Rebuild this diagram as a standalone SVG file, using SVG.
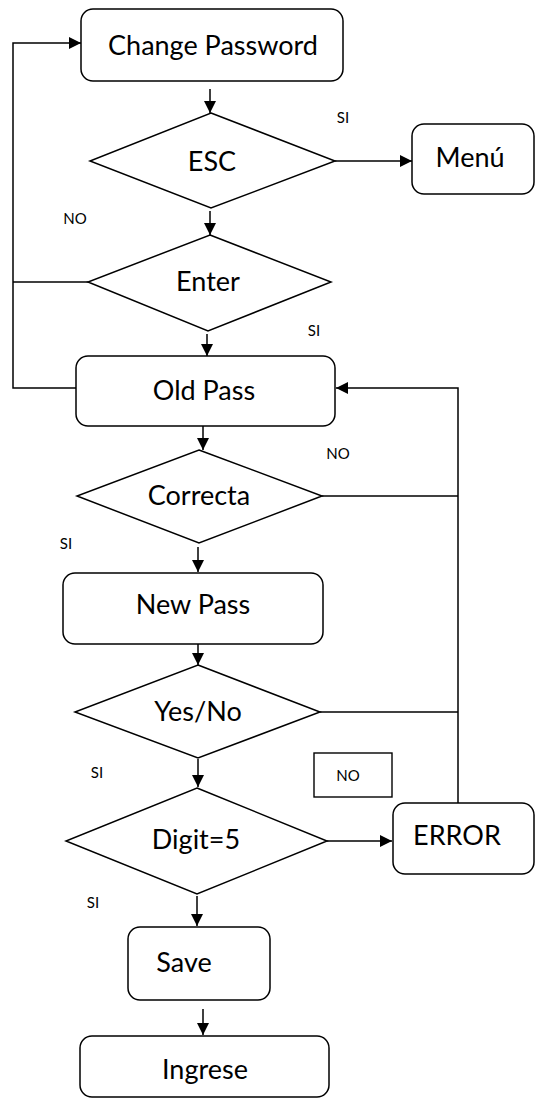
<svg xmlns="http://www.w3.org/2000/svg" width="544" height="1100" viewBox="0 0 544 1100">
<style>
.box{fill:#fff;stroke:#000;stroke-width:1.5}
.dia{fill:#fff;stroke:#000;stroke-width:1.5}
.lbl{font-family:Lato,"Liberation Sans",sans-serif;font-size:27px;fill:#000;text-anchor:middle}
.sm{font-family:Lato,"Liberation Sans",sans-serif;font-size:15px;fill:#000;text-anchor:middle}
.ln{fill:none;stroke:#000;stroke-width:1.5}
</style>
<defs>
<marker id="ah" markerWidth="12" markerHeight="12" refX="12" refY="6" orient="auto" markerUnits="userSpaceOnUse">
<path d="M0,0 L12,6 L0,12 Z" fill="#000"/>
</marker>
</defs>
<rect width="544" height="1100" fill="#fff"/>
<g id="connectors">
<polyline class="ln" points="76,388 13,388 13,43 81,43" marker-end="url(#ah)"/>
<line class="ln" x1="210" y1="89" x2="210" y2="113" marker-end="url(#ah)"/>
<line class="ln" x1="335" y1="161" x2="412" y2="161" marker-end="url(#ah)"/>
<line class="ln" x1="210" y1="211" x2="210" y2="235" marker-end="url(#ah)"/>
<line class="ln" x1="88" y1="282" x2="13" y2="282"/>
<line class="ln" x1="207" y1="334" x2="207" y2="356" marker-end="url(#ah)"/>
<line class="ln" x1="203" y1="426" x2="203" y2="450" marker-end="url(#ah)"/>
<line class="ln" x1="322" y1="496" x2="458" y2="496"/>
<line class="ln" x1="198" y1="547" x2="198" y2="572" marker-end="url(#ah)"/>
<line class="ln" x1="198" y1="644" x2="198" y2="665" marker-end="url(#ah)"/>
<line class="ln" x1="320" y1="712" x2="458" y2="712"/>
<line class="ln" x1="198" y1="759" x2="198" y2="787" marker-end="url(#ah)"/>
<line class="ln" x1="327" y1="841" x2="392" y2="841" marker-end="url(#ah)"/>
<polyline class="ln" points="458,803 458,388 336,388" marker-end="url(#ah)"/>
<line class="ln" x1="197" y1="896" x2="197" y2="926" marker-end="url(#ah)"/>
<line class="ln" x1="203" y1="1009" x2="203" y2="1035" marker-end="url(#ah)"/>
</g>
<g id="n-change">
<rect class="box" x="81" y="9" width="262" height="72" rx="12"/>
<text class="lbl" x="213" y="55">Change Password</text>
</g>
<g id="n-esc">
<polygon class="dia" points="211,113 335,161 211,208 90,161"/>
<text class="lbl" x="212" y="171">ESC</text>
</g>
<g id="n-menu">
<rect class="box" x="412" y="124" width="122" height="70" rx="12"/>
<text class="lbl" x="470" y="167">Menú</text>
</g>
<g id="n-enter">
<polygon class="dia" points="210,235 331,282 208,331 88,282"/>
<text class="lbl" x="208" y="291">Enter</text>
</g>
<g id="n-oldpass">
<rect class="box" x="76" y="356" width="259" height="70" rx="12"/>
<text class="lbl" x="204" y="400">Old Pass</text>
</g>
<g id="n-correcta">
<polygon class="dia" points="199,450 322,496 199,543 77,496"/>
<text class="lbl" x="199" y="505">Correcta</text>
</g>
<g id="n-newpass">
<rect class="box" x="63" y="573" width="260" height="71" rx="12"/>
<text class="lbl" x="193" y="614">New Pass</text>
</g>
<g id="n-yesno">
<polygon class="dia" points="198,665 320,712 198,758 75,712"/>
<text class="lbl" x="198" y="721">Yes/No</text>
</g>
<g id="n-digit">
<polygon class="dia" points="197,788 327,841 197,894 66,841"/>
<text class="lbl" x="196" y="849">Digit=5</text>
</g>
<g id="n-error">
<rect class="box" x="393" y="803" width="141" height="71" rx="12"/>
<text class="lbl" x="457" y="845">ERROR</text>
</g>
<g id="n-save">
<rect class="box" x="128" y="927" width="142" height="73" rx="12"/>
<text class="lbl" x="184" y="972">Save</text>
</g>
<g id="n-ingrese">
<rect class="box" x="80" y="1036" width="249" height="61" rx="12"/>
<text class="lbl" x="205" y="1079">Ingrese</text>
</g>
<g id="n-nobox">
<rect x="314" y="753" width="78" height="44" fill="#fff" stroke="#000" stroke-width="1.4"/>
<text class="sm" x="348" y="781">NO</text>
</g>
<g id="labels">
<text class="sm" x="343" y="123">SI</text>
<text class="sm" x="75" y="224">NO</text>
<text class="sm" x="314" y="336">SI</text>
<text class="sm" x="338" y="459">NO</text>
<text class="sm" x="66" y="549">SI</text>
<text class="sm" x="97" y="778">SI</text>
<text class="sm" x="93" y="908">SI</text>
</g>
</svg>
